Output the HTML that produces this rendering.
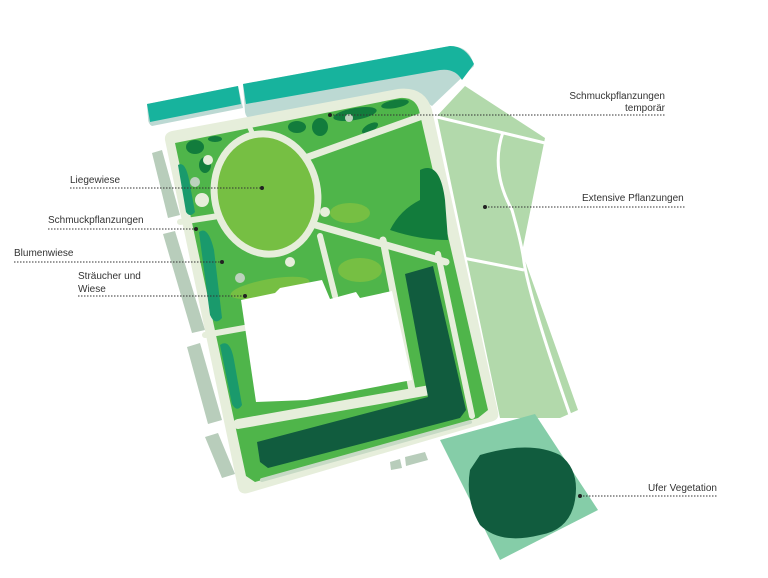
<!DOCTYPE html>
<html><head><meta charset="utf-8"><style>
html,body{margin:0;padding:0;background:#fff;}
svg{display:block}
text{font-family:"Liberation Sans",sans-serif;font-size:10px;fill:#333}
</style></head><body>
<svg width="768" height="578" viewBox="0 0 768 578" xmlns="http://www.w3.org/2000/svg">
<!-- top teal strips -->
<path d="M147,104 L238,86 L243,108 L152,126 Q148,124 148,118 Z" fill="#bcd9d3"/>
<path d="M147,104 L238,86 L241,104 L150,122 Z" fill="#17b39d"/>
<path d="M243,84 L450,46 Q470,46 474,66 L432,106 L410,92 Q400,90 385,92 L250,118 Q246,118 245,112 Z" fill="#bcd9d3"/>
<path d="M243,84 L450,46 Q466,46 474,64 L462,80 Q455,68 440,70 L246,104 Z" fill="#17b39d"/>
<!-- extensive -->
<path d="M437,116 L465,86 L545,138 L522,252 L578,410 L560,418 L500,418 L437,116 Z" fill="#b2d9ab"/>
<path d="M437,117 L545,143" stroke="#fff" stroke-width="3" fill="none"/>
<path d="M503,132 Q490,170 512,210 Q522,245 524,262 Q530,300 570,415" stroke="#fff" stroke-width="3" fill="none"/>
<path d="M463,258 L524,270" stroke="#fff" stroke-width="3" fill="none"/>
<!-- left strips -->
<g fill="#b8cdbb">
<path d="M152,153 L162,150 L180,215 L168,218 Z"/>
<path d="M163,234 L175,231 L205,330 L192,333 Z"/>
<path d="M187,347 L200,343 L222,420 L208,424 Z"/>
<path d="M205,437 L218,433 L235,474 L222,478 Z"/>
<path d="M390,462 L400,459 L402,468 L391,470 Z"/>
<path d="M405,457 L425,452 L428,460 L406,466 Z"/>
</g>
<!-- park outer cream -->
<path d="M165,140 Q164,133 172,131 L398,89 Q425,86 432,110 L498,412 Q500,420 490,422 L248,493 Q240,495 238,488 Z" fill="#e6eedb"/>
<!-- interior green -->
<path d="M175,143 L400,98 Q415,97 419,110 L488,410 L478,418 L255,482 L246,476 Z" fill="#4fb54a"/>
<!-- dark accents top -->
<g fill="#127c3c">
<ellipse cx="355" cy="114" rx="22" ry="6" transform="rotate(-10 355 114)"/>
<ellipse cx="395" cy="104" rx="14" ry="4" transform="rotate(-10 395 104)"/>
<ellipse cx="320" cy="127" rx="8" ry="9"/>
<ellipse cx="297" cy="127" rx="9" ry="6"/>
<ellipse cx="370" cy="128" rx="9" ry="4" transform="rotate(-30 370 128)"/>
<ellipse cx="195" cy="147" rx="9" ry="7"/>
<ellipse cx="205" cy="165" rx="6" ry="8"/>
<ellipse cx="215" cy="139" rx="7" ry="3"/>
<path d="M420,170 Q440,160 445,200 L448,240 Q420,240 390,230 Q400,210 420,200 Z"/>
</g>
<g fill="#76bf43">
<ellipse cx="350" cy="213" rx="20" ry="10"/>
<ellipse cx="360" cy="270" rx="22" ry="12"/>
<ellipse cx="270" cy="288" rx="40" ry="9" transform="rotate(-10 270 288)"/>
</g>
<g fill="#1a9a6c">
<path d="M178,165 Q186,160 190,185 L195,212 Q190,218 186,212 Z"/>
<path d="M199,232 Q208,225 214,250 L222,318 Q215,326 210,315 Z"/>
<path d="M220,345 Q230,338 234,360 L242,405 Q237,413 232,404 Z"/>
</g>
<!-- cream paths -->
<g stroke="#e6eedb" fill="none" stroke-linecap="round">
<path d="M305,158 L428,114" stroke-width="7"/>
<path d="M312,224 L446,262" stroke-width="7"/>
<path d="M320,236 L335,296" stroke-width="6"/>
<path d="M383,240 L412,390" stroke-width="7"/>
<path d="M438,254 L472,416" stroke-width="6"/>
<path d="M180,222 L225,215" stroke-width="6"/>
<path d="M205,335 L250,327" stroke-width="6"/>
<path d="M238,424 L430,390" stroke-width="10"/>
<path d="M250,128 L260,150" stroke-width="5"/>
</g>
<!-- oval -->
<ellipse cx="266" cy="194" rx="55" ry="64" transform="rotate(-12 266 194)" fill="#e6eedb"/>
<ellipse cx="266" cy="194" rx="48" ry="57" transform="rotate(-12 266 194)" fill="#76bf43"/>
<g fill="#e6eedb"><circle cx="208" cy="160" r="5"/><circle cx="202" cy="200" r="7"/><circle cx="325" cy="212" r="5"/><circle cx="290" cy="262" r="5"/></g>
<g fill="#bcd2bd"><circle cx="195" cy="182" r="5"/><circle cx="240" cy="278" r="5"/><circle cx="349" cy="118" r="4"/></g>
<!-- white building -->
<path d="M241,300 L275,293 L280,288 L322,280 L330,299 L356,292 L360,298 L392,291 L412,380 L307,400 L256,402 Z" fill="#fff"/>
<!-- dark L -->
<path d="M405,274 L433,266 L466,410 L460,418 L268,468 L260,462 L257,442 L428,397 Z" fill="#115c3e"/>
<!-- bottom light strip -->
<path d="M262,480 L470,422" stroke="#c7dac5" stroke-width="4" stroke-linecap="round"/>
<!-- Ufer -->
<path d="M440,440 L535,414 L598,510 L500,560 Z" fill="#85cda8"/>
<path d="M480,455 Q530,440 560,455 Q580,470 575,500 Q570,530 540,535 Q500,545 480,525 Q465,500 470,470 Z" fill="#115c3e"/>
<!-- labels -->
<g stroke="#333" stroke-width="1" stroke-dasharray="1.5,1.5" fill="none">
<path d="M330,115 H665"/><path d="M70,188 H262"/><path d="M485,207 H685"/>
<path d="M48,229 H196"/><path d="M14,262 H222"/><path d="M78,296 H245"/><path d="M580,496 H718"/>
</g>
<g fill="#222"><circle cx="330" cy="115" r="2"/><circle cx="262" cy="188" r="2"/><circle cx="485" cy="207" r="2"/><circle cx="196" cy="229" r="2"/><circle cx="222" cy="262" r="2"/><circle cx="245" cy="296" r="2"/><circle cx="580" cy="496" r="2"/></g>
<text x="665" y="99" text-anchor="end">Schmuckpflanzungen</text>
<text x="665" y="111" text-anchor="end">temporär</text>
<text x="70" y="183">Liegewiese</text>
<text x="582" y="201">Extensive Pflanzungen</text>
<text x="48" y="223">Schmuckpflanzungen</text>
<text x="14" y="256">Blumenwiese</text>
<text x="78" y="279">Sträucher und</text>
<text x="78" y="292">Wiese</text>
<text x="648" y="491">Ufer Vegetation</text>
</svg>
</body></html>
